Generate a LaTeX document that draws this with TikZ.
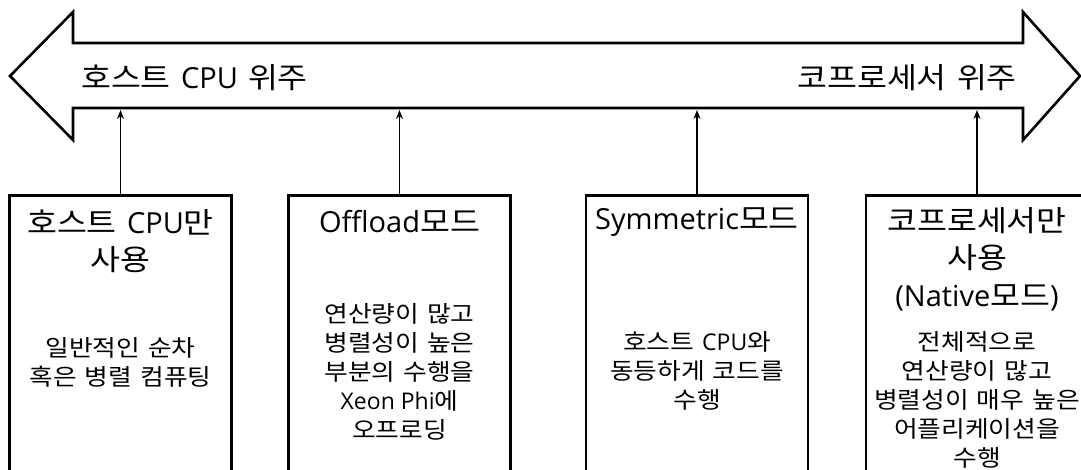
\documentclass[tikz,border=0pt]{standalone}
\usepackage{fontspec}
\setmainfont{Noto Sans CJK KR}[WordSpace=1.4, FakeStretch=1.12]
\newfontfamily\enfont{Open Sans}
\newcommand\en[1]{{\enfont #1}}
\usetikzlibrary{arrows.meta}
\begin{document}
\begin{tikzpicture}[x=1pt,y=-1pt,
  outline/.style={draw=black, line width=2.6pt, line join=miter, fill=white},
  modebox/.style={draw=black, line width=2.6pt, minimum width=222pt, minimum height=290pt, anchor=north, inner sep=0pt},
  boxtitle/.style={font=\fontsize{29}{37.5}\selectfont, align=center, inner sep=0pt},
  boxbody/.style={font=\fontsize{23}{29}\selectfont, align=center, inner sep=0pt},
  barlabel/.style={font=\fontsize{29}{32}\selectfont, inner sep=0pt},
  link/.style={line width=1.6pt, -{Stealth[length=9pt,width=7pt]}}]
\useasboundingbox (0,0) rectangle (1081,470);
\fill[white] (0,0) rectangle (1081,470);
% double arrow
\draw[outline] (10,76) -- (73,12) -- (73,43) -- (1023,43) -- (1023,12) -- (1080,76)
  -- (1023,140) -- (1023,108) -- (73,108) -- (73,140) -- cycle;
\node[barlabel, anchor=west] (lhost) at (81,78) {호스트 \en{CPU} 위주};
\node[barlabel, anchor=east] (lcop) at (1017,78) {코프로세서 위주};
% arrow targets
\coordinate (t1) at (120.5,110);
\coordinate (t2) at (399.5,110);
\coordinate (t3) at (697,110);
\coordinate (t4) at (977,110);
% boxes
\node[modebox] (b1) at (120.5,194) {};
\node[modebox] (b2) at (399.5,194) {};
\node[modebox] (b3) at (697,194) {};
\node[modebox] (b4) at (977,194) {};
% titles
\node[boxtitle] (h1) at (120.5,241) {호스트 \en{CPU}만\\사용};
\node[boxtitle] (h2) at (399.5,222) {\en{Offload}모드};
\node[boxtitle] (h3) at (697,222) {\en{Symmetric}모드};
\node[boxtitle] (h4) at (977,259) {코프로세서만\\사용\\\en{(Native}모드\en{)}};
% bodies
\node[boxbody] (d1) at (120.5,362.5) {일반적인 순차\\혹은 병렬 컴퓨팅};
\node[boxbody] (d2) at (399.5,372) {연산량이 많고\\병렬성이 높은\\부분의 수행을\\\en{Xeon Phi}에\\오프로딩};
\node[boxbody] (d3) at (697,371) {호스트 \en{CPU}와\\동등하게 코드를\\수행};
\node[boxbody] (d4) at (977,400) {전체적으로\\연산량이 많고\\병렬성이 매우 높은\\어플리케이션을\\수행};
% connectors
\draw[link] (b1.north) -- (t1);
\draw[link] (b2.north) -- (t2);
\draw[link] (b3.north) -- (t3);
\draw[link] (b4.north) -- (t4);
\end{tikzpicture}
\end{document}
